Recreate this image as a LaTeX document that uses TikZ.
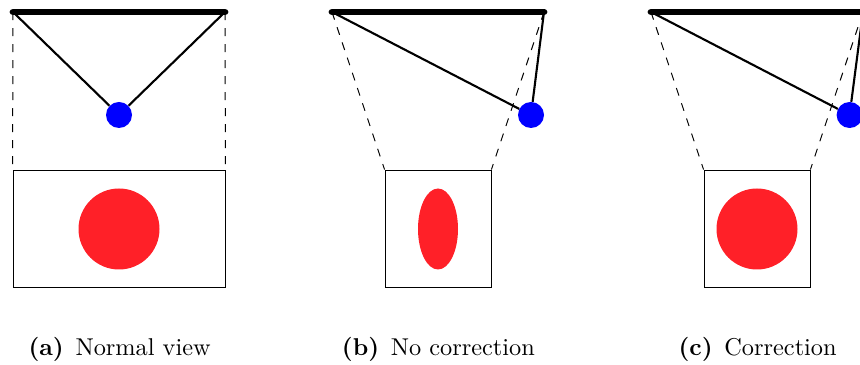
\documentclass[tikz,border=0pt]{standalone}
\definecolor{ballblue}{RGB}{0,0,255}
\definecolor{spotred}{RGB}{255,32,40}
\begin{document}
\begin{tikzpicture}

        % Stili globali della figura
        \tikzset{
            bar/.style={line width=4.8pt, line cap=round},
            wire/.style={line width=1.5pt},
            proj/.style={line width=0.7pt, dash pattern=on 5.7pt off 5.7pt},
            ball/.style={circle, fill=ballblue, inner sep=0pt, minimum size=0.65cm},
            screen/.style={draw, line width=0.6pt, inner sep=0pt, minimum height=2.925cm},
            spot/.style={fill=spotred},
            caption/.style={scale=1.73, anchor=base}
        }

        % Area visibile (il terzo pannello esce a destra)
        \clip (0,0) rectangle (21.5, 9.125);

        % Pannello (a): vista normale
        \coordinate (leftA) at (0.325, 8.825);
        \coordinate (rightA) at (5.625, 8.825);
        \node[screen, minimum width=5.3cm] (screenA) at (2.975, 3.4125) {};
        \node[ball] (ballA) at (2.975, 6.25) {};
        \draw[proj] (leftA) -- (screenA.north west);
        \draw[proj] (rightA) -- (screenA.north east);
        \draw[wire] (leftA) -- (ballA);
        \draw[wire] (rightA) -- (ballA);
        \draw[bar] (leftA) -- (rightA);
        \fill[spot] (2.975, 3.4) circle (1.0125);
        \node[caption] (capA) at (2.99, 0.24) {\textbf{(a)}\hspace{4.8pt}Normal view};

        % Pannello (b): senza correzione, immagine schiacciata
        \coordinate (leftB) at (8.3, 8.825);
        \coordinate (rightB) at (13.6, 8.825);
        \node[screen, minimum width=2.65cm] (screenB) at (10.95, 3.4125) {};
        \node[ball] (ballB) at (13.275, 6.25) {};
        \draw[proj] (leftB) -- (screenB.north west);
        \draw[proj] (rightB) -- (screenB.north east);
        \draw[wire] (leftB) -- (ballB);
        \draw[wire] (rightB) -- (ballB);
        \draw[bar] (leftB) -- (rightB);
        \fill[spot] (10.95, 3.4) ellipse (0.5 and 1.0125);
        \node[caption] (capB) at (10.96, 0.24) {\textbf{(b)}\hspace{4.8pt}No correction};

        % Pannello (c): con correzione, cerchio di nuovo rotondo
        \coordinate (leftC) at (16.275, 8.825);
        \coordinate (rightC) at (21.575, 8.825);
        \node[screen, minimum width=2.65cm] (screenC) at (18.925, 3.4125) {};
        \node[ball] (ballC) at (21.24, 6.25) {};
        \draw[proj] (leftC) -- (screenC.north west);
        \draw[proj] (rightC) -- (screenC.north east);
        \draw[wire] (leftC) -- (ballC);
        \draw[wire] (rightC) -- (ballC);
        \draw[bar] (leftC) -- (rightC);
        \fill[spot] (18.925, 3.4) circle (1.0125);
        \node[caption] (capC) at (18.94, 0.24) {\textbf{(c)}\hspace{4.8pt}Correction};

    \end{tikzpicture}
\end{document}
